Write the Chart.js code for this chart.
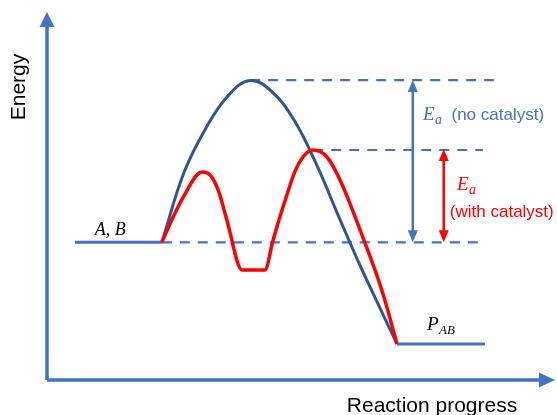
<!DOCTYPE html>
<html>
<head>
<meta charset="utf-8">
<script src="https://cdn.jsdelivr.net/npm/chart.js@4.4.1/dist/chart.umd.min.js"></script>
<style>
html,body{margin:0;padding:0;background:#fff;}
canvas{display:block;}
</style>
</head>
<body>
<canvas id="c" width="557" height="415"></canvas>
<script>
// Reaction progress (x) and energy (y) readings
const reactantLevel = [{x:5.5,y:37.4},{x:22.6,y:37.4}];
const productLevel  = [{x:68.9,y:9.8},{x:86.2,y:9.8}];
const noCatalystX = [22.6,27.0,31.3,35.6,40.0,44.3,48.6,53.0,57.3,61.6,65.6,68.9];
const noCatalystY = [37.4,56.5,68.5,77.2,81.4,78.3,70.7,58.7,44.8,31.2,19.4,9.8];
const catalystX = [22.6,25.2,27.6,29.5,30.7,32.1,33.7,35.4,38.4,42.9,44.5,46.9,49.2,52.4,55.1,57.7,62.6,66.1,68.9];
const catalystY = [37.4,45.4,51.6,55.7,56.5,55.7,51.6,43.5,29.9,29.9,38.0,48.9,57.9,62.5,60.6,54.3,37.2,23.6,9.8];
const refLines = [
  {x0:40.0, x1:89.2, y:81.5},
  {x0:52.4, x1:85.8, y:62.5},
  {x0:22.6, x1:85.8, y:37.4}
];
const eaArrows = [
  {x:72.0, y0:37.4, y1:81.5, color:'#4472C4'},
  {x:78.1, y0:37.4, y1:62.8, color:'#FF0000'}
];
const labels = [
  {x:9.4, y:39.4, parts:[{t:'A, B', math:true, size:18}], color:'#000'},
  {x:74.8, y:13.6, parts:[{t:'P', math:true, size:19},{t:'AB', math:true, size:13, sub:true}], color:'#000'},
  {x:74.0, y:70.7, parts:[{t:'E', math:true, size:19},{t:'a', math:true, size:14, sub:true},{t:'  (no catalyst)', math:false, size:17}], color:'#4472C4'},
  {x:80.7, y:51.6, parts:[{t:'E', math:true, size:19},{t:'a', math:true, size:14, sub:true}], color:'#FF0000'},
  {x:79.3, y:44.3, parts:[{t:'(with catalyst)', math:false, size:17}], color:'#FF0000'}
];
const xTitle = 'Reaction progress';
const yTitle = 'Energy';

const zip = (xs, ys) => xs.map((x,i)=>({x, y: ys[i]}));

const datasets = [
  {data: zip(catalystX, catalystY), borderColor:'#FF0000', borderWidth:3.5, cubicInterpolationMode:'monotone', order:0},
  {data: zip(noCatalystX, noCatalystY), borderColor:'#2F5597', borderWidth:3, tension:0.4, order:1},
  {data: reactantLevel, borderColor:'#4472C4', borderWidth:3, order:2},
  {data: productLevel, borderColor:'#4472C4', borderWidth:3, order:2}
];
refLines.forEach(r => datasets.push({data:[{x:r.x0,y:r.y},{x:r.x1,y:r.y}], borderColor:'#4472C4', borderWidth:2.2, borderDash:[10,8], order:3}));

const decor = {
  id:'decor',
  afterDatasetsDraw(chart){
    const ctx = chart.ctx, a = chart.chartArea;
    const xs = chart.scales.x, ys = chart.scales.y;
    ctx.save();
    // axes with arrowheads
    ctx.strokeStyle = '#4472C4'; ctx.fillStyle = '#4472C4'; ctx.lineWidth = 3.5;
    ctx.beginPath();
    ctx.moveTo(a.left, a.bottom); ctx.lineTo(a.left, a.top + 14);
    ctx.moveTo(a.left, a.bottom); ctx.lineTo(a.right - 15, a.bottom);
    ctx.stroke();
    ctx.beginPath();
    ctx.moveTo(a.left, a.top); ctx.lineTo(a.left - 7.5, a.top + 15); ctx.lineTo(a.left + 7.5, a.top + 15); ctx.closePath(); ctx.fill();
    ctx.beginPath();
    ctx.moveTo(a.right, a.bottom); ctx.lineTo(a.right - 16, a.bottom - 7.5); ctx.lineTo(a.right - 16, a.bottom + 7.5); ctx.closePath(); ctx.fill();
    // Ea arrows
    eaArrows.forEach(ar => {
      const px = xs.getPixelForValue(ar.x), p0 = ys.getPixelForValue(ar.y0), p1 = ys.getPixelForValue(ar.y1);
      ctx.strokeStyle = ar.color; ctx.fillStyle = ar.color; ctx.lineWidth = 2.5;
      ctx.beginPath(); ctx.moveTo(px, p1 + 10); ctx.lineTo(px, p0 - 10); ctx.stroke();
      ctx.beginPath(); ctx.moveTo(px, p1); ctx.lineTo(px - 5, p1 + 12); ctx.lineTo(px + 5, p1 + 12); ctx.closePath(); ctx.fill();
      ctx.beginPath(); ctx.moveTo(px, p0); ctx.lineTo(px - 5, p0 - 12); ctx.lineTo(px + 5, p0 - 12); ctx.closePath(); ctx.fill();
    });
    // labels
    ctx.textBaseline = 'alphabetic'; ctx.textAlign = 'left';
    labels.forEach(l => {
      let px = xs.getPixelForValue(l.x); const py = ys.getPixelForValue(l.y);
      ctx.fillStyle = l.color;
      l.parts.forEach(p => {
        ctx.font = p.math ? ('italic ' + p.size + 'px "Liberation Serif", serif') : (p.size + 'px "Liberation Sans", Arial, sans-serif');
        ctx.fillText(p.t, px, py + (p.sub ? 4 : 0));
        px += ctx.measureText(p.t).width + (p.sub ? 0 : 0.5);
      });
    });
    // axis titles
    ctx.fillStyle = '#000';
    ctx.font = '21px "Liberation Sans", Arial, sans-serif';
    ctx.textAlign = 'center';
    ctx.fillText(xTitle, 432, 412);
    ctx.translate(25, 87);
    ctx.rotate(-Math.PI/2);
    ctx.fillText(yTitle, 0, 0);
    ctx.restore();
  }
};

new Chart(document.getElementById('c'), {
  type:'line',
  data:{datasets},
  options:{
    responsive:false,
    animation:false,
    events:[],
    layout:{padding:{left:47, top:12, right:2, bottom:35}},
    elements:{point:{radius:0}, line:{fill:false}},
    plugins:{legend:{display:false}, tooltip:{enabled:false}},
    scales:{
      x:{type:'linear', min:0, max:100, display:false},
      y:{type:'linear', min:0, max:100, display:false}
    }
  },
  plugins:[decor]
});
</script>
</body>
</html>
